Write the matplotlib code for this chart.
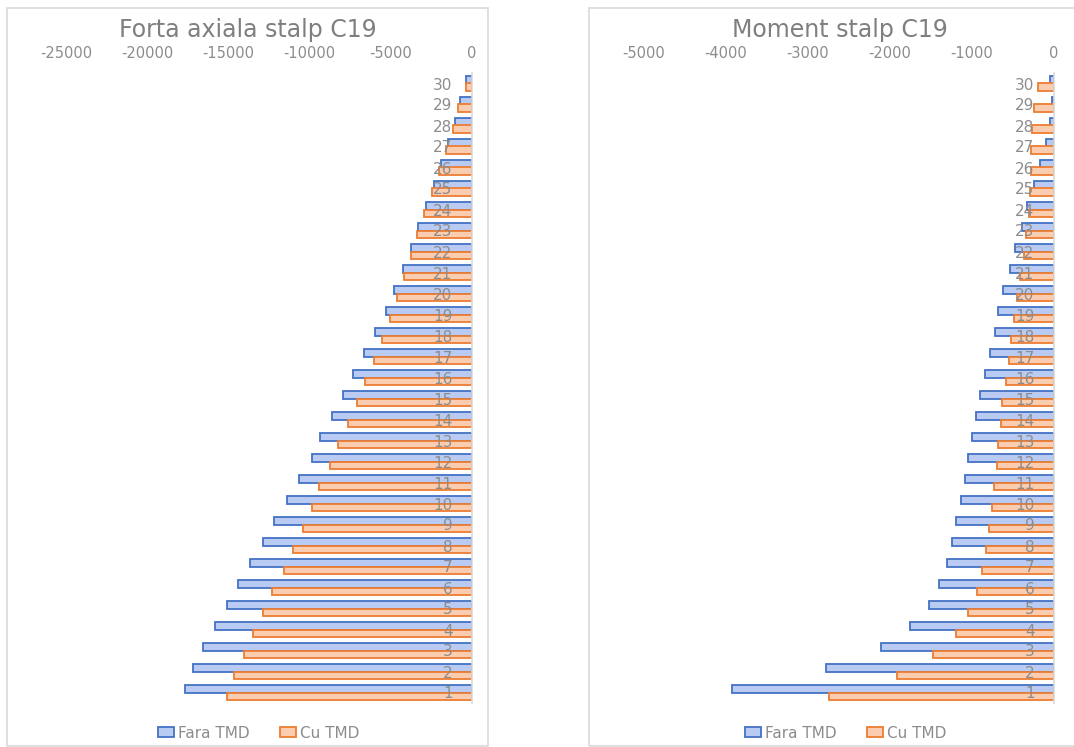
import matplotlib
matplotlib.use("Agg")
import matplotlib.pyplot as plt
from matplotlib.patches import Rectangle, Patch
from matplotlib.ticker import FixedLocator, FuncFormatter

plt.rcParams["font.family"] = ["DejaVu Sans"]
plt.rcParams["axes.unicode_minus"] = False

levels = list(range(1, 31))

# Axial force in column C19 (kN), per storey 1..30
axial_fara = [-17700, -17200, -16550, -15800, -15100, -14400, -13670, -12900, -12170, -11400,
              -10670, -9870, -9360, -8640, -7920, -7310, -6630, -5970, -5310, -4800,
              -4230, -3770, -3300, -2840, -2350, -1880, -1500, -1070, -760, -350]
axial_cu = [-15070, -14660, -14040, -13500, -12900, -12300, -11600, -11000, -10400, -9870,
            -9400, -8740, -8230, -7620, -7100, -6590, -6030, -5560, -5050, -4640,
            -4190, -3760, -3380, -2960, -2490, -2020, -1630, -1200, -840, -350]

# Bending moment in column C19 (kNm), per storey 1..30
moment_fara = [-3930, -2780, -2110, -1760, -1530, -1400, -1300, -1240, -1190, -1140,
               -1090, -1045, -1000, -950, -900, -840, -780, -720, -680, -620,
               -540, -470, -390, -330, -250, -170, -100, -45, -30, -45]
moment_cu = [-2750, -1910, -1470, -1200, -1050, -940, -880, -830, -790, -760,
             -730, -700, -680, -650, -630, -585, -550, -520, -490, -450,
             -410, -370, -345, -310, -295, -280, -280, -270, -250, -190]

series_names = ["Fara TMD", "Cu TMD"]
titles = ["Forta axiala stalp C19", "Moment stalp C19"]
axial_ticks = [-25000, -20000, -15000, -10000, -5000, 0]
moment_ticks = [-5000, -4000, -3000, -2000, -1000, 0]

BLUE_EDGE = "#4472c4"
BLUE_FILL = "#b9cbf3"
ORANGE_EDGE = "#ed7d31"
ORANGE_FILL = "#fbcdb0"
TEXT_GRAY = "#8c8c8c"

W, H = 1074, 747
fig = plt.figure(figsize=(W / 100, H / 100), dpi=100)
fig.patch.set_facecolor("white")

# chart frames
fig.patches.append(Rectangle((7 / W, 1 - 746 / H), (488 - 7) / W, (746 - 8) / H,
                             transform=fig.transFigure, fill=False,
                             edgecolor="#d9d9d9", linewidth=1.2))
fig.patches.append(Rectangle((589 / W, 1 - 746 / H), (1100 - 589) / W, (746 - 8) / H,
                             transform=fig.transFigure, fill=False,
                             edgecolor="#d9d9d9", linewidth=1.2))


def panel(x_left, x_zero, lo, ticks, fara, cu, title, title_x, legend_x):
    top, bottom = 73, 703
    ax = fig.add_axes([x_left / W, 1 - bottom / H, (x_zero - x_left) / W, (bottom - top) / H])
    h = 0.36
    ax.barh([y + h / 2 for y in levels], fara, height=h, color=BLUE_FILL,
            edgecolor=BLUE_EDGE, linewidth=1.3, label=series_names[0])
    ax.barh([y - h / 2 for y in levels], cu, height=h, color=ORANGE_FILL,
            edgecolor=ORANGE_EDGE, linewidth=1.3, label=series_names[1])
    ax.set_xlim(lo, 0)
    ax.set_ylim(0.5, 30.5)
    ax.xaxis.tick_top()
    ax.xaxis.set_major_locator(FixedLocator(ticks))
    ax.xaxis.set_major_formatter(FuncFormatter(lambda v, p: f"{int(v)}"))
    ax.tick_params(axis="x", length=0, pad=9, labelsize=10.5, labelcolor=TEXT_GRAY)
    ax.set_yticks(levels)
    ax.set_yticklabels([str(l) for l in levels])
    ax.tick_params(axis="y", length=0, pad=14, labelsize=11, labelcolor=TEXT_GRAY)
    for s in ["top", "bottom", "right"]:
        ax.spines[s].set_visible(False)
    ax.spines["left"].set_position(("data", 0))
    ax.spines["left"].set_color("#d9d9d9")
    ax.spines["left"].set_linewidth(1.2)
    ax.set_facecolor("none")
    fig.text(title_x / W, 1 - 30 / H, title, ha="center", va="center",
             fontsize=17, color="#7f7f7f")
    handles = [Patch(facecolor=BLUE_FILL, edgecolor=BLUE_EDGE, linewidth=1.3),
               Patch(facecolor=ORANGE_FILL, edgecolor=ORANGE_EDGE, linewidth=1.3)]
    fig.legend(handles, series_names, loc="center", bbox_to_anchor=(legend_x / W, 1 - 733 / H),
               ncol=2, frameon=False, fontsize=11, labelcolor=TEXT_GRAY,
               handlelength=1.0, handleheight=0.6, handletextpad=0.3, columnspacing=2.0)
    return ax


panel(66, 472, -25000, axial_ticks, axial_fara, axial_cu, titles[0], 248, 259)
panel(644, 1054, -5000, moment_ticks, moment_fara, moment_cu, titles[1], 840, 846)

fig.savefig("out.png", dpi=100)
